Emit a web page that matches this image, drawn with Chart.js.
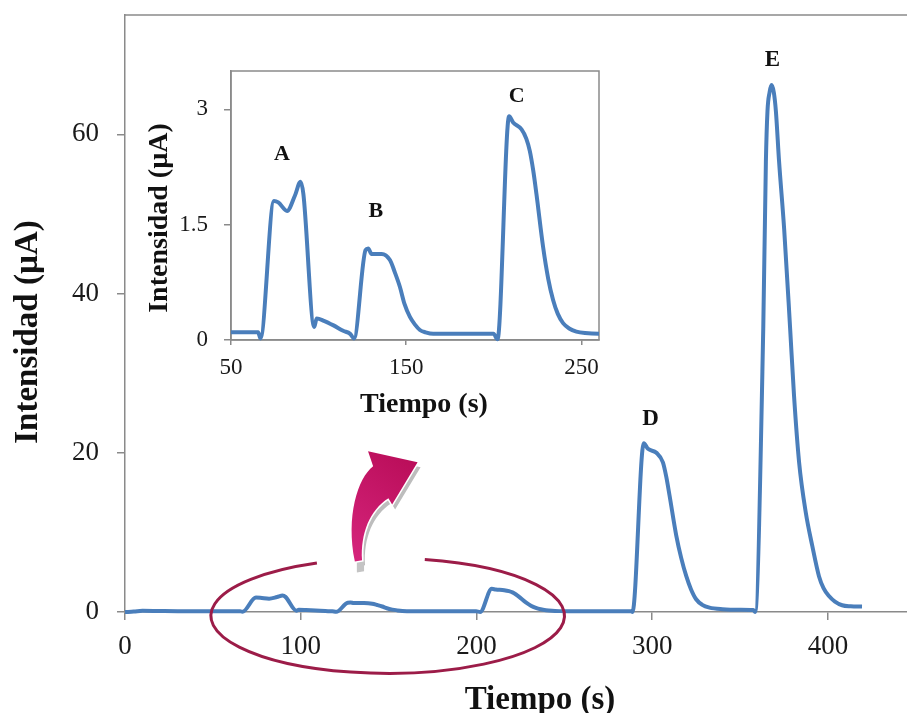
<!DOCTYPE html>
<html><head><meta charset="utf-8">
<script src="https://cdn.jsdelivr.net/npm/chart.js@4.4.1/dist/chart.umd.min.js"></script>
<style>
html,body{margin:0;padding:0;background:#fff;}
#wrap{position:relative;width:907px;height:713px;overflow:hidden;}
#main{position:absolute;left:0;top:0;}
#inset{position:absolute;left:130px;top:55px;}
</style></head><body>
<div id="wrap">
<canvas id="main" width="907" height="713"></canvas>
<canvas id="inset" width="480" height="375"></canvas>
</div>
<script>
// ---- data (time in s, current in µA) ----
const time = [0, 5, 10, 20, 30, 40, 50, 60, 65.5, 66.8, 74.5, 77, 82, 86.5, 89.7, 91.3, 97.5, 98.9, 103, 108.5, 114, 118, 120.2,
  126.8, 128.3, 130.2, 136, 140.7, 143.5, 146.4, 149, 152.1, 155, 157.8, 161, 165.4, 175, 185, 195, 199.8, 202.1,
  208.7, 211, 215.8, 218.5, 220.5, 222.5, 224.3, 228.1, 231, 233.8, 236.5, 239.5, 243, 247.1, 252, 260, 270, 280, 288, 288.8,
  295.2, 297.6, 302.4, 306.1, 308, 309.9, 313.7, 316.5, 319.4, 322, 325, 328.5, 332.6, 340, 350, 357.5, 358.6,
  363.2, 364.7, 365.6, 366.8, 367.9, 369.2, 370.4, 372.2, 375.1, 378.5, 380.7, 383.6, 387.4, 391.1, 394.9, 397.5, 400.6, 404, 408.1, 413, 419.4];
const current = [0.0, 0.05, 0.15, 0.12, 0.1, 0.1, 0.1, 0.1, 0.1, 0.02, 1.81, 1.79, 1.68, 1.88, 2.06, 1.9, 0.17, 0.28, 0.25, 0.19, 0.12, 0.08, 0.02,
  1.17, 1.19, 1.12, 1.12, 1.04, 0.88, 0.69, 0.47, 0.30, 0.2, 0.13, 0.1, 0.08, 0.08, 0.08, 0.08, 0.08, 0.01,
  2.91, 2.83, 2.74, 2.62, 2.46, 2.2, 1.9, 1.21, 0.8, 0.52, 0.34, 0.22, 0.15, 0.11, 0.09, 0.08, 0.08, 0.08, 0.08, 0.0,
  21.2, 20.5, 20.0, 18.8, 17.0, 14.6, 9.6, 6.8, 4.5, 2.9, 1.6, 0.9, 0.55, 0.35, 0.28, 0.25, 0.0,
  35.6, 56.6, 62.9, 65.3, 66.2, 65.3, 62.9, 56.6, 48.1, 35.6, 27.2, 18.8, 12.5, 8.3, 4.5, 3.0, 2.0, 1.3, 0.85, 0.72, 0.68];

const mainXTicks = [0, 100, 200, 300, 400];
const mainYTicks = [0, 20, 40, 60];
const insetXTicks = [50, 150, 250];
const insetYTicks = [0, 1.5, 3];

const mainPeakNames = ['D', 'E'];
const mainPeakX = [299, 368.4];
const mainPeakY = [24.2, 69.4];
const insetPeakNames = ['A', 'B', 'C'];
const insetPeakX = [79.1, 132.7, 213];
const insetPeakY = [2.42, 1.68, 3.17];

const xTitle = 'Tiempo (s)';
const yTitle = 'Intensidad (µA)';

// ---- styling ----
const SERIF = "'Liberation Serif', 'Times New Roman', serif";
const AXIS = '#8a8a8a';
const LINE = '#4a7ebb';
const points = time.map((t, i) => ({x: t, y: current[i]}));

function fixTicks(list) { return s => { s.ticks = list.map(v => ({value: v})); }; }
function fitX(h) { return s => { s.height = h; s.paddingLeft = 0; s.paddingRight = 0; s.paddingTop = 0; s.paddingBottom = 0; }; }
function fitY(w) { return s => { s.width = w; s.paddingLeft = 0; s.paddingRight = 0; s.paddingTop = 0; s.paddingBottom = 0; }; }

function axisOpts(min, max, ticks, fontSize, pad, tickLen, fit) {
  return {
    type: 'linear', min: min, max: max,
    afterBuildTicks: fixTicks(ticks), afterFit: fit,
    grid: {display: true, drawOnChartArea: false, drawTicks: true, tickLength: tickLen, color: AXIS, lineWidth: 1.5},
    border: {display: true, color: AXIS, width: 1.5},
    ticks: {font: {family: SERIF, size: fontSize}, color: '#1a1a1a', padding: pad, maxRotation: 0, autoSkip: false}
  };
}

// ---- main chart decorations ----
const mainDeco = {
  id: 'mainDeco',
  afterDraw(chart) {
    const ctx = chart.ctx, a = chart.chartArea, sx = chart.scales.x, sy = chart.scales.y;
    const X = v => sx.getPixelForValue(v), Y = v => sy.getPixelForValue(v);
    ctx.save();
    // top frame line
    ctx.strokeStyle = AXIS; ctx.lineWidth = 1.5;
    ctx.beginPath(); ctx.moveTo(a.left, a.top); ctx.lineTo(a.right, a.top); ctx.stroke();

    // ellipse around the small peaks (data units)
    const ecx = X(149.5), ecy = Y(-0.48);
    const erx = X(149.5 + 100.6) - ecx, ery = ecy - Y(-0.48 + 7.23);
    const g1 = Math.acos((X(109.2) - ecx) / erx), g2 = Math.acos((X(170.6) - ecx) / erx);
    ctx.strokeStyle = '#9c1c48'; ctx.lineWidth = 3;
    ctx.beginPath(); ctx.ellipse(ecx, ecy, erx, ery, 0, -g2, 2 * Math.PI - g1); ctx.stroke();

    // curved arrow (data units)
    const P = (x, y) => [X(x), Y(y)];
    const path = () => {
      ctx.beginPath();
      ctx.moveTo(...P(130.8, 6.33));
      ctx.bezierCurveTo(...P(125.6, 11.99), ...P(132.4, 16.8), ...P(141.2, 18.3));
      ctx.lineTo(...P(138.3, 20.2));
      ctx.lineTo(...P(166.5, 18.8));
      ctx.lineTo(...P(152.0, 13.5));
      ctx.lineTo(...P(149.9, 14.3));
      ctx.bezierCurveTo(...P(139.3, 12.8), ...P(134.0, 9.9), ...P(134.9, 6.5));
      ctx.closePath();
    };
    // grey shadow
    ctx.save();
    ctx.translate(3, 5);
    path(); ctx.fillStyle = '#bdbdbd'; ctx.fill();
    ctx.restore();
    ctx.save();
    ctx.translate(2, 11);
    ctx.beginPath();
    ctx.moveTo(...P(130.8, 6.33)); ctx.lineTo(...P(134.9, 6.5)); ctx.lineTo(...P(134.9, 8.5)); ctx.lineTo(...P(130.8, 8.5));
    ctx.closePath(); ctx.fillStyle = '#c4c4c4'; ctx.fill();
    ctx.restore();
    // white halo + magenta body
    path(); ctx.strokeStyle = '#ffffff'; ctx.lineWidth = 3; ctx.stroke();
    const grad = ctx.createLinearGradient(X(126), Y(8), X(166), Y(20));
    grad.addColorStop(0, '#d4237a'); grad.addColorStop(1, '#b80c57');
    path(); ctx.fillStyle = grad; ctx.fill();

    // peak letters
    ctx.fillStyle = '#111'; ctx.textAlign = 'center'; ctx.textBaseline = 'middle';
    ctx.font = 'bold 23px ' + SERIF;
    mainPeakNames.forEach((n, i) => ctx.fillText(n, X(mainPeakX[i]), Y(mainPeakY[i])));

    // axis titles
    ctx.font = 'bold 33px ' + SERIF;
    ctx.textBaseline = 'alphabetic';
    ctx.fillText(xTitle, 540, 709);
    ctx.save();
    ctx.translate(28, 332); ctx.rotate(-Math.PI / 2);
    ctx.textBaseline = 'middle';
    ctx.fillText(yTitle, 0, 0);
    ctx.restore();
    ctx.restore();
  }
};

new Chart(document.getElementById('main'), {
  type: 'line',
  data: {datasets: [{data: points, borderColor: LINE, borderWidth: 4, pointRadius: 0,
    cubicInterpolationMode: 'monotone', fill: false, clip: {left: 0, right: 0, top: 0, bottom: 3}}]},
  options: {
    responsive: false, animation: false, devicePixelRatio: 1,
    layout: {padding: {left: 0, top: 15, right: 0, bottom: 0}},
    plugins: {legend: {display: false}, tooltip: {enabled: false}},
    scales: {
      x: axisOpts(0, 445, mainXTicks, 27, 11, 8, fitX(101)),
      y: axisOpts(0, 75, mainYTicks, 27, 18, 8, fitY(125))
    }
  },
  plugins: [mainDeco]
});

// ---- inset chart ----
const insetDeco = {
  id: 'insetDeco',
  beforeDatasetsDraw(chart) {
    const ctx = chart.ctx, a = chart.chartArea;
    ctx.save();
    ctx.strokeStyle = AXIS; ctx.lineWidth = 1.5;
    ctx.strokeRect(a.left, a.top, a.right - a.left, a.bottom - a.top);
    ctx.restore();
  },
  afterDraw(chart) {
    const ctx = chart.ctx, sx = chart.scales.x, sy = chart.scales.y;
    ctx.save();
    ctx.fillStyle = '#111'; ctx.textAlign = 'center'; ctx.textBaseline = 'middle';
    ctx.font = 'bold 22px ' + SERIF;
    insetPeakNames.forEach((n, i) => ctx.fillText(n, sx.getPixelForValue(insetPeakX[i]), sy.getPixelForValue(insetPeakY[i])));
    ctx.font = 'bold 28px ' + SERIF;
    ctx.fillText(xTitle, 294, 350);
    ctx.save();
    ctx.translate(29.5, 163); ctx.rotate(-Math.PI / 2);
    ctx.fillText(yTitle, 0, 0);
    ctx.restore();
    ctx.restore();
  }
};

new Chart(document.getElementById('inset'), {
  type: 'line',
  data: {datasets: [{data: points, borderColor: LINE, borderWidth: 4, pointRadius: 0,
    cubicInterpolationMode: 'monotone', fill: false, clip: {left: 0, right: 0, top: 0, bottom: 3}}]},
  options: {
    responsive: false, animation: false, devicePixelRatio: 1,
    layout: {padding: {left: 0, top: 16, right: 11, bottom: 0}},
    plugins: {legend: {display: false}, tooltip: {enabled: false}},
    scales: {
      x: axisOpts(50, 260, insetXTicks, 23, 9, 5, fitX(90)),
      y: axisOpts(0, 3.5, insetYTicks, 23, 16, 7, fitY(101))
    }
  },
  plugins: [insetDeco]
});
</script>
</body></html>
